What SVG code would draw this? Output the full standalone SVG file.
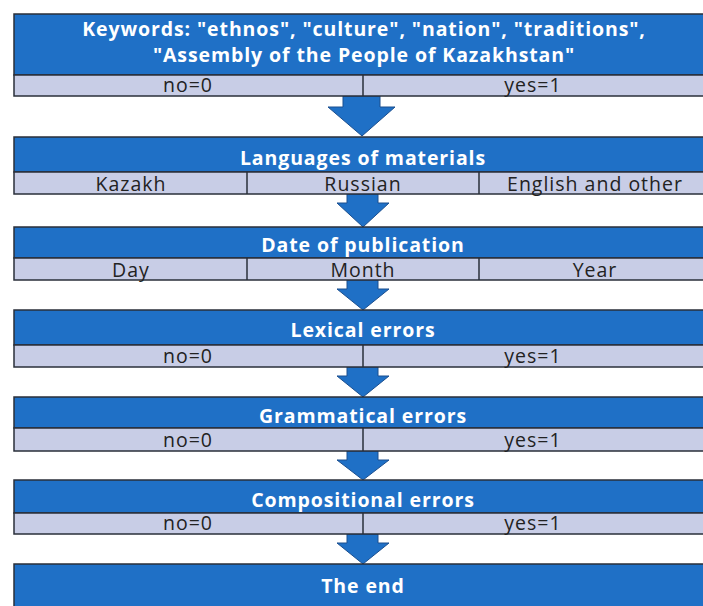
<svg xmlns="http://www.w3.org/2000/svg" width="703" height="606" viewBox="0 0 703 606">
<style>
.hd{fill:#1f70c6;stroke:#2a2f3a;stroke-width:1.5}
.rw{fill:#c8cde6;stroke:#2a2f3a;stroke-width:1.5}
.dv{stroke:#2a2f3a;stroke-width:1.5}
.ht{font-family:"Open Sans","Liberation Sans",Arial,sans-serif;font-weight:bold;font-size:19.5px;letter-spacing:0.9px;fill:#ffffff;text-anchor:middle}
.rt{font-family:"Open Sans","Liberation Sans",Arial,sans-serif;font-size:19.5px;letter-spacing:1px;fill:#222222;text-anchor:middle}
.ar{fill:#1f70c6;stroke:#1b4f8f;stroke-width:1}
</style>
<rect width="703" height="606" fill="#ffffff"/>
<g id="connectors">
<polygon class="ar" points="343,96 380,96 380,107 395,107 362,136 328,107 343,107"/>
<polygon class="ar" points="347,194 378,194 378,203 389,203 363,227 337,203 347,203"/>
<polygon class="ar" points="347,280 378,280 378,289 389,289 363,310 337,289 347,289"/>
<polygon class="ar" points="347,367 378,367 378,376 389,376 363,397 337,376 347,376"/>
<polygon class="ar" points="347,451 378,451 378,460 389,460 363,480 337,460 347,460"/>
<polygon class="ar" points="347,534 378,534 378,543 389,543 363,564 337,543 347,543"/>
</g>
<g id="keywords">
<rect class="hd" x="14" y="14" width="700" height="61"/>
<rect class="rw" x="14" y="75" width="700" height="21"/>
<line class="dv" x1="363" y1="75" x2="363" y2="96"/>
<text class="ht" x="364" y="36">Keywords: "ethnos", "culture", "nation", "traditions",</text>
<text class="ht" x="364" y="62">"Assembly of the People of Kazakhstan"</text>
<text class="rt" x="188" y="92">no=0</text>
<text class="rt" x="533" y="92">yes=1</text>
</g>
<g id="languages">
<rect class="hd" x="14" y="137" width="700" height="35"/>
<rect class="rw" x="14" y="172" width="700" height="22"/>
<line class="dv" x1="247" y1="172" x2="247" y2="194"/>
<line class="dv" x1="479" y1="172" x2="479" y2="194"/>
<text class="ht" x="363" y="165">Languages of materials</text>
<text class="rt" x="131" y="191">Kazakh</text>
<text class="rt" x="363" y="191">Russian</text>
<text class="rt" x="595" y="191">English and other</text>
</g>
<g id="date">
<rect class="hd" x="14" y="227" width="700" height="31"/>
<rect class="rw" x="14" y="258" width="700" height="22"/>
<line class="dv" x1="247" y1="258" x2="247" y2="280"/>
<line class="dv" x1="479" y1="258" x2="479" y2="280"/>
<text class="ht" x="363" y="252">Date of publication</text>
<text class="rt" x="131" y="277">Day</text>
<text class="rt" x="363" y="277">Month</text>
<text class="rt" x="595" y="277">Year</text>
</g>
<g id="lexical">
<rect class="hd" x="14" y="310" width="700" height="35"/>
<rect class="rw" x="14" y="345" width="700" height="22"/>
<line class="dv" x1="363" y1="345" x2="363" y2="367"/>
<text class="ht" x="363" y="337">Lexical errors</text>
<text class="rt" x="188" y="363">no=0</text>
<text class="rt" x="533" y="363">yes=1</text>
</g>
<g id="grammatical">
<rect class="hd" x="14" y="397" width="700" height="31"/>
<rect class="rw" x="14" y="428" width="700" height="23"/>
<line class="dv" x1="363" y1="428" x2="363" y2="451"/>
<text class="ht" x="363" y="423">Grammatical errors</text>
<text class="rt" x="188" y="447">no=0</text>
<text class="rt" x="533" y="447">yes=1</text>
</g>
<g id="compositional">
<rect class="hd" x="14" y="480" width="700" height="33"/>
<rect class="rw" x="14" y="513" width="700" height="21"/>
<line class="dv" x1="363" y1="513" x2="363" y2="534"/>
<text class="ht" x="363" y="507">Compositional errors</text>
<text class="rt" x="188" y="530">no=0</text>
<text class="rt" x="533" y="530">yes=1</text>
</g>
<g id="end">
<rect class="hd" x="14" y="564" width="700" height="50"/>
<text class="ht" x="363" y="593">The end</text>
</g>
</svg>
